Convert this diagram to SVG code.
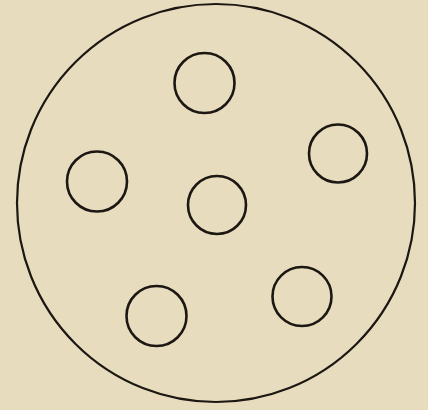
<svg xmlns="http://www.w3.org/2000/svg" width="428" height="410" viewBox="0 0 428 410">
<style>
.ring{fill:none;stroke:#1c1712;stroke-width:2.6}
.outer{fill:none;stroke:#1c1712;stroke-width:2.2}
</style>
<rect width="428" height="410" fill="#e7dcbd"/>
<g id="outer-circle"><circle class="outer" cx="216" cy="203" r="199"/></g>
<g id="hole-top"><circle class="ring" cx="204.5" cy="83" r="30"/></g>
<g id="hole-right"><circle class="ring" cx="338" cy="153.5" r="29"/></g>
<g id="hole-left"><circle class="ring" cx="97" cy="181.5" r="30"/></g>
<g id="hole-center"><circle class="ring" cx="217" cy="205" r="29"/></g>
<g id="hole-bottom-left"><circle class="ring" cx="156.5" cy="316" r="30"/></g>
<g id="hole-bottom-right"><circle class="ring" cx="302" cy="296.5" r="29.5"/></g>
<g id="connectors"></g>
</svg>
